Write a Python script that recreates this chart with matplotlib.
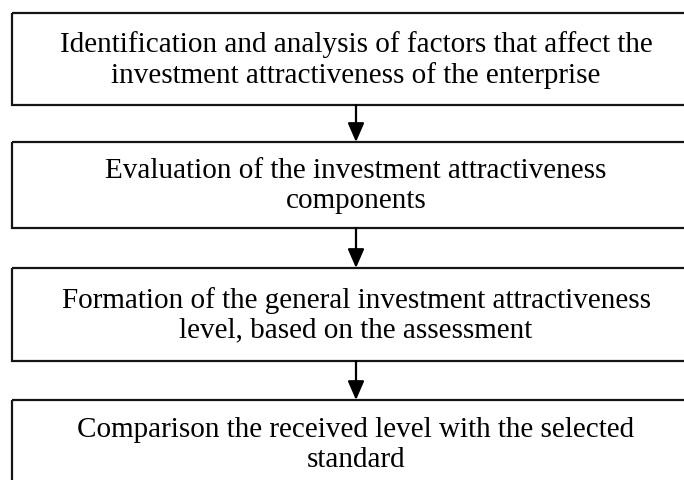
import matplotlib
matplotlib.use("Agg")
import matplotlib.pyplot as plt
from matplotlib.patches import Rectangle

# Flowchart steps (text content)
steps = [
    "Identification and analysis of factors that affect the\ninvestment attractiveness of the enterprise",
    "Evaluation of the investment attractiveness\ncomponents",
    "Formation of the general investment attractiveness\nlevel, based on the assessment",
    "Comparison the received level with the selected\nstandard",
]
# Box vertical extents (pixel coordinates, top/bottom)
box_tops = [14, 143, 269, 401]
box_bottoms = [106, 229, 362, 492]
box_left = 12
box_right = 702

W, H = 684, 481
fig = plt.figure(figsize=(W / 100, H / 100), dpi=100)
ax = fig.add_axes([0, 0, 1, 1])
ax.set_xlim(0, W)
ax.set_ylim(H, 0)
ax.axis("off")

lw = 1.6
cx = (box_left + box_right) / 2 - 1
for text, top, bot in zip(steps, box_tops, box_bottoms):
    ax.add_patch(Rectangle((box_left, top), box_right - box_left, bot - top,
                           fill=False, edgecolor="#151515", linewidth=lw))
    cy = (top + bot) / 2 if bot < H else 445
    ax.text(cx, cy, text, ha="center", va="center", fontsize=21,
            family="Liberation Serif", color="black", linespacing=1.18)

for i in range(len(steps) - 1):
    ax.annotate("", xy=(cx, box_tops[i + 1]), xytext=(cx, box_bottoms[i]),
                arrowprops=dict(arrowstyle="-|>,head_length=11.5,head_width=5",
                                mutation_scale=1, color="black", lw=lw,
                                shrinkA=0, shrinkB=0))

fig.savefig("out.png", dpi=100)
